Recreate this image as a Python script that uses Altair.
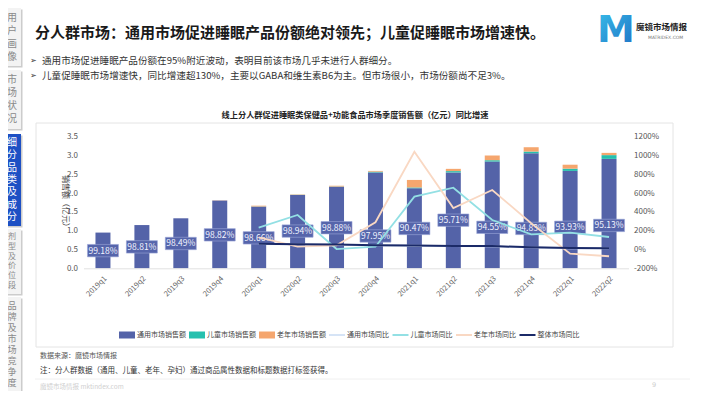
import altair as alt
import pandas as pd

# ---------------- data ----------------
quarters = ["2019q1", "2019q2", "2019q3", "2019q4", "2020q1", "2020q2", "2020q3",
            "2020q4", "2021q1", "2021q2", "2021q3", "2021q4", "2022q1", "2022q2"]
general_sales = [0.95, 1.15, 1.33, 1.80, 1.64, 1.95, 2.17, 2.55, 2.13, 2.55, 2.84, 3.06, 2.59, 2.91]
child_sales = [0.0, 0.0, 0.0, 0.0, 0.005, 0.005, 0.005, 0.02, 0.02, 0.035, 0.035, 0.045, 0.06, 0.10]
elder_sales = [0.0, 0.0, 0.0, 0.005, 0.02, 0.01, 0.02, 0.02, 0.20, 0.06, 0.125, 0.115, 0.105, 0.06]
general_share = ["99.18%", "98.81%", "98.49%", "98.82%", "98.66%", "98.94%", "98.88%",
                 "97.95%", "90.47%", "95.71%", "94.55%", "94.83%", "93.93%", "95.13%"]
share_label_at = [0.47, 0.57, 0.66, 0.89, 0.81, 0.99, 1.08, 0.86, 1.06, 1.28, 1.09, 1.06, 1.09, 1.14]

yoy_quarters = quarters[4:]
general_yoy = [58, 55, 50, 43, 40, 35, 34, 22, 13, 11]
child_yoy = [232, 367, 5, 30, 562, 657, 314, 160, 180, 133]
elder_yoy = [130, 30, 45, 290, 1040, 441, 633, 280, -45, -72]
overall_yoy = [60, 57, 52, 45, 42, 36, 36, 24, 15, 13]

bar_series = ["通用市场销售额", "儿童市场销售额", "老年市场销售额"]
line_series = ["通用市场同比", "儿童市场同比", "老年市场同比", "整体市场同比"]
bar_colors = ["#5463a8", "#26c0ae", "#f5a66e"]
line_colors = ["#d6e4f6", "#93e0e4", "#f9d8c3", "#1b2a68"]

left_ticks = [0, 0.5, 1.0, 1.5, 2.0, 2.5, 3.0, 3.5]
right_ticks = [-200, 0, 200, 400, 600, 800, 1000, 1200]

sidebar_tabs = ["用户画像", "市场状况", "细分品类及成分", "剂型及价位段", "品牌及市场竞争度"]

title = "分人群市场：通用市场促进睡眠产品份额绝对领先；儿童促睡眠市场增速快。"
bullets = ["通用市场促进睡眠产品份额在95%附近波动，表明目前该市场几乎未进行人群细分。",
           "儿童促睡眠市场增速快，同比增速超130%，主要以GABA和维生素B6为主。但市场很小，市场份额尚不足3%。"]
chart_title = "线上分人群促进睡眠类保健品+功能食品市场季度销售额（亿元）同比增速"

# ---------------- layout ----------------
CJK = "Noto Sans CJK SC"
OX, OY = 83.5, 136.7
W, H = 545, 131.6

one = pd.DataFrame({"k": [0]})


def txt(s, x, y, size, color="#333333", weight="normal", align="left",
        baseline="middle", font=CJK):
    return alt.Chart(one).mark_text(fontSize=size, color=color, fontWeight=weight, align=align,
                                    baseline=baseline, font=font).encode(
        x=alt.value(x - OX), y=alt.value(y - OY), text=alt.value(s))


def box(x1, y1, x2, y2, fill, stroke=None, sw=0.0):
    kw = dict(fill=fill)
    if stroke is not None:
        kw.update(stroke=stroke, strokeWidth=sw)
    return alt.Chart(one).mark_rect(**kw).encode(
        x=alt.value(x1 - OX), x2=alt.value(x2 - OX),
        y=alt.value(y1 - OY), y2=alt.value(y2 - OY))


def seg(x1, y1, x2, y2, color, sw):
    return alt.Chart(one).mark_rule(color=color, strokeWidth=sw).encode(
        x=alt.value(x1 - OX), x2=alt.value(x2 - OX),
        y=alt.value(y1 - OY), y2=alt.value(y2 - OY))


# ---------------- chart ----------------
rows = []
for i, q in enumerate(quarters):
    for j, (s, vals) in enumerate(zip(bar_series, [general_sales, child_sales, elder_sales])):
        rows.append({"quarter": q, "series": s, "value": vals[i], "ord": j})
bar_df = pd.DataFrame(rows)

label_df = pd.DataFrame({"quarter": quarters, "pos": share_label_at, "share": general_share})

xscale = alt.Scale(domain=quarters, paddingInner=0.615, paddingOuter=0.3075)
lscale = alt.Scale(domain=[0, 3.5], nice=False, zero=True)
rscale = alt.Scale(domain=[-200, 1200], nice=False, zero=False)

xaxis = alt.Axis(title=None, labelAngle=-45, labelFontSize=7.5, labelColor="#666666",
                 labelFont=CJK, ticks=False, domainColor="#e2e2e2", labelPadding=6,
                 grid=False, zindex=1)
laxis = alt.Axis(orient="left", values=left_ticks, format=".1f", grid=False,
                 ticks=False, domain=False, labelFontSize=8, labelColor="#555555",
                 labelFont=CJK, labelPadding=6,
                 title="销售额（亿元）", titleAngle=90, titleFontSize=8,
                 titleFontWeight="normal", titleColor="#444444", titleFont=CJK,
                 titlePadding=6, zindex=1)
raxis = alt.Axis(orient="right", values=right_ticks, labelExpr="datum.value + '%'",
                 grid=False, ticks=False, domain=False, labelFontSize=8,
                 labelColor="#555555", labelFont=CJK, title=None, labelPadding=5, zindex=1)

X = alt.X("quarter:N", scale=xscale, axis=xaxis, sort=quarters)

bars = alt.Chart(bar_df).mark_bar().encode(
    x=X,
    y=alt.Y("value:Q", stack="zero", scale=lscale, axis=laxis),
    color=alt.Color("series:N", scale=alt.Scale(domain=bar_series, range=bar_colors), legend=None),
    order=alt.Order("ord:Q"),
)

label_box = alt.Chart(label_df).mark_bar(
    width=31, yOffset=-6.2, y2Offset=6.2, fill="#5665ab", stroke="#9ba6d6", strokeWidth=0.6
).encode(
    x=X,
    y=alt.Y("pos:Q", scale=lscale, axis=laxis),
    y2="pos:Q",
)
label_text = alt.Chart(label_df).mark_text(
    color="#f2f4ff", fontSize=8.5, font=CJK, baseline="middle"
).encode(
    x=X,
    y=alt.Y("pos:Q", scale=lscale, axis=laxis),
    text="share:N",
)

left = alt.layer(bars, label_box, label_text)

line_layers = []
for k, (s, vals, c) in enumerate(zip(line_series, [general_yoy, child_yoy, elder_yoy, overall_yoy], line_colors)):
    df = pd.DataFrame({"quarter": yoy_quarters, "yoy": vals})
    line_layers.append(
        alt.Chart(df).mark_line(color=c, strokeWidth=2 if k == 3 else 1.8).encode(
            x=X,
            y=alt.Y("yoy:Q", scale=rscale, axis=raxis),
        )
    )
right = alt.layer(*line_layers)

# ---------------- decorations ----------------
back = []
back.append(box(36, 123, 673, 347, "#ffffff", "#e4e4e4", 1))
tab_y = [(8, 66), (70, 129), (134, 226), (229, 294), (297, 392)]
front = []
for i, (name, (y1, y2)) in enumerate(zip(sidebar_tabs, tab_y)):
    active = (i == 2)
    back.append(box(4.5, y1 + 1.5, 22.5, y2 + 1.5, "#cccccc"))
    back.append(box(3, y1, 21, y2, "#1d50c4" if active else "#f3f3f3"))
    step = (y2 - y1 - 6) / len(name)
    fs = min(10.0, step * 0.82)
    for j, ch in enumerate(name):
        front.append(txt(ch, 12, y1 + 3 + step * (j + 0.5), fs,
                         color="#ffffff" if active else "#8a8a8a", align="center"))

# title & logo
front.append(txt(title, 35, 33, 15, color="#1a1a1a", weight="bold"))
logo_grad = alt.Gradient(gradient="linear", x1=0, y1=0, x2=1, y2=1,
                         stops=[alt.GradientStop(color="#39c0ea", offset=0),
                                alt.GradientStop(color="#1f6fc4", offset=1)])
front.append(alt.Chart(one).mark_text(fontSize=38, fontWeight="bold", font="DejaVu Sans",
                                      fill=logo_grad, align="center", baseline="middle").encode(
    x=alt.value(616 - OX), y=alt.value(31 - OY), text=alt.value("M")))
front.append(txt("魔镜市场情报", 636, 27, 8.5, color="#222222", weight="bold"))
front.append(txt("MATRIDEX.COM", 648, 38, 4.5, color="#777777", font="DejaVu Sans"))

for i, b in enumerate(bullets):
    yy = 61 + 15 * i
    front.append(txt("➢", 30, yy, 8, color="#333333", font="DejaVu Sans"))
    front.append(txt(b, 42, yy, 9.6, color="#333333"))

front.append(txt(chart_title, 355, 116, 8.2, color="#222222", weight="bold", align="center"))

# legend
lx = 119.0
ly = 335
for k, s in enumerate(bar_series + line_series):
    if k < 3:
        front.append(box(lx, ly - 3.5, lx + 16, ly + 3.5, bar_colors[k]))
    else:
        front.append(seg(lx, ly, lx + 16, ly, line_colors[k - 3], 2))
    front.append(txt(s, lx + 18, ly, 7, color="#444444"))
    lx += 24.5 + 6.5 * len(s)

# footnotes
front.append(txt("数据来源：魔镜市场情报", 40, 356, 7, color="#555555"))
front.append(txt("注：分人群数据（通用、儿童、老年、孕妇）通过商品属性数据和标题数据打标签获得。", 40, 371, 7.5, color="#333333"))
front.append(seg(35, 379, 690, 379, "#f0f0f0", 1))
front.append(txt("魔镜市场情报   mktindex.com", 40, 387, 6.5, color="#d0d0d0"))
front.append(txt("9", 652, 385, 6.5, color="#cccccc", font="DejaVu Sans"))

chart = alt.layer(*back, left, right, *front).resolve_scale(y="independent").properties(
    width=W, height=H,
    autosize=alt.AutoSizeParams(type="none"),
    padding={"left": OX - 8, "top": OY - 8, "right": 694 - (OX - 8) - W, "bottom": 383 - (OY - 8) - H},
    background="#ffffff",
).configure_view(strokeWidth=0)

chart.save("out.html", embed_options={"renderer": "svg", "actions": False})
